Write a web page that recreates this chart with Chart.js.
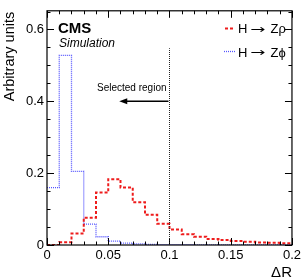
<!DOCTYPE html>
<html>
<head>
<meta charset="utf-8">
<script src="https://cdn.jsdelivr.net/npm/chart.js@4.4.1/dist/chart.umd.min.js"></script>
<style>
html,body{margin:0;padding:0;background:#fff;}
canvas{display:block;}
</style>
</head>
<body>
<canvas id="c" width="304" height="279"></canvas>
<script>
// Bin lower edges (ΔR), bin width 0.01
const binEdges = [0.00,0.01,0.02,0.03,0.04,0.05,0.06,0.07,0.08,0.09,0.10,0.11,0.12,0.13,0.14,0.15,0.16,0.17,0.18,0.19];
const binUpper = 0.20;
// H -> Zrho (red dashed)
const zRho = [0.000,0.008,0.032,0.076,0.146,0.183,0.160,0.119,0.084,0.059,0.043,0.030,0.023,0.017,0.014,0.011,0.009,0.007,0.006,0.005];
// H -> Zphi (blue dotted)
const zPhi = [0.160,0.528,0.205,0.058,0.023,0.011,0.005,0.003,0.002,0.001,0.001,0.001,0.000,0.000,0.000,0.000,0.000,0.000,0.000,0.000];
const seriesNames = ["H \u2192 Z\u03C1","H \u2192 Z\u03D5"];
const xTickVals = [0,0.05,0.1,0.15,0.2];
const xTickLabels = ["0","0.05","0.1","0.15","0.2"];
const yTickVals = [0,0.2,0.4,0.6];
const yTickLabels = ["0","0.2","0.4","0.6"];
const cutValue = 0.1;

function histPoints(vals){
  const pts = binEdges.map((e,i)=>({x:e,y:vals[i]}));
  pts.push({x:binUpper,y:vals[vals.length-1]});
  return pts;
}

const FONT = "'Liberation Sans', Arial, Helvetica, sans-serif";

function legendText(ctx, label, x, y){
  const parts = label.split(' ');   // ["H","→","Zρ"]
  ctx.font = '13px ' + FONT;
  ctx.fillText(parts[0], x, y);
  ctx.save();
  ctx.translate(x + 12, y - 0.5);
  ctx.scale(1.5, 1);
  ctx.font = '12px DejaVu Sans';
  ctx.fillText(parts[1], 0, 0);
  ctx.restore();
  ctx.font = '13px ' + FONT;
  ctx.fillText(parts[2], x + 32.5, y);
}

const decor = {
  id:'decor',
  afterDatasetsDraw(chart){
    const ctx = chart.ctx;
    const a = chart.chartArea;
    const xs = chart.scales.x, ys = chart.scales.y;
    ctx.save();
    // frame
    ctx.strokeStyle = '#000';
    ctx.lineWidth = 1.2;
    ctx.setLineDash([]);
    ctx.strokeRect(a.left, a.top, a.right-a.left, a.bottom-a.top);
    // ticks
    ctx.lineWidth = 1;
    ctx.beginPath();
    for(let k=0;k<=20;k++){
      const v = k*0.01;
      const px = Math.round(xs.getPixelForValue(v))+0.5;
      const len = (k%5===0)?7:3.5;
      ctx.moveTo(px,a.bottom); ctx.lineTo(px,a.bottom-len);
      ctx.moveTo(px,a.top); ctx.lineTo(px,a.top+len);
    }
    for(let k=0;k<=13;k++){
      const v = k*0.05;
      if(v>ys.max) break;
      const py = Math.round(ys.getPixelForValue(v))+0.5;
      const len = (k%4===0)?7:3.5;
      ctx.moveTo(a.left,py); ctx.lineTo(a.left+len,py);
      ctx.moveTo(a.right,py); ctx.lineTo(a.right-len,py);
    }
    ctx.stroke();
    // vertical cut line
    const cx = Math.round(xs.getPixelForValue(cutValue))+0.5;
    ctx.strokeStyle = '#222';
    ctx.lineWidth = 1;
    ctx.setLineDash([1,1]);
    ctx.beginPath();
    ctx.moveTo(cx, ys.getPixelForValue(0));
    ctx.lineTo(cx, ys.getPixelForValue(0.548));
    ctx.stroke();
    ctx.setLineDash([]);
    // arrow
    const ay = ys.getPixelForValue(0.4);
    const ax0 = cx-1, ax1 = xs.getPixelForValue(0.059);
    ctx.strokeStyle = '#000';
    ctx.lineWidth = 1.5;
    ctx.beginPath();
    ctx.moveTo(ax0, ay); ctx.lineTo(ax1+6, ay);
    ctx.stroke();
    ctx.fillStyle = '#000';
    ctx.beginPath();
    ctx.moveTo(ax1, ay); ctx.lineTo(ax1+8, ay-3); ctx.lineTo(ax1+8, ay+3); ctx.closePath();
    ctx.fill();
    // texts
    ctx.fillStyle = '#000';
    ctx.textBaseline = 'alphabetic';
    ctx.textAlign = 'right';
    ctx.font = '10px ' + FONT;
    ctx.fillText('Selected region', cx-3, 91);
    ctx.textAlign = 'left';
    ctx.font = 'bold 15px ' + FONT;
    ctx.fillText('CMS', 58, 32.5);
    ctx.font = 'italic 12px ' + FONT;
    ctx.fillText('Simulation', 59, 46.5);
    // legend
    ctx.lineWidth = 2;
    ctx.strokeStyle = '#ee1c1c';
    ctx.setLineDash([3,2]);
    ctx.beginPath(); ctx.moveTo(225,28.5); ctx.lineTo(234,28.5); ctx.stroke();
    ctx.lineWidth = 1.3;
    ctx.strokeStyle = '#5555ff';
    ctx.setLineDash([1,1]);
    ctx.beginPath(); ctx.moveTo(224,51.5); ctx.lineTo(235,51.5); ctx.stroke();
    ctx.setLineDash([]);
    legendText(ctx, seriesNames[0], 238, 33);
    legendText(ctx, seriesNames[1], 238, 56.5);
    // axis titles
    ctx.font = '15px ' + FONT;
    ctx.textAlign = 'right';
    ctx.fillText('\u0394R', a.right, 277);
    ctx.save();
    ctx.translate(14, a.top+1);
    ctx.rotate(-Math.PI/2);
    ctx.textAlign = 'right';
    ctx.textBaseline = 'alphabetic';
    ctx.font = '14.5px ' + FONT;
    ctx.fillText('Arbitrary units', 0, 0);
    ctx.restore();
    ctx.restore();
  }
};

new Chart(document.getElementById('c'), {
  type:'line',
  data:{
    datasets:[
      {label:seriesNames[0], data:histPoints(zRho), stepped:'before', borderColor:'#ee1c1c', borderWidth:2, borderDash:[3,2], pointRadius:0, fill:false},
      {label:seriesNames[1], data:histPoints(zPhi), stepped:'before', borderColor:'#5555ff', borderWidth:1.3, borderDash:[1,1], pointRadius:0, fill:false}
    ]
  },
  options:{
    responsive:false,
    animation:false,
    devicePixelRatio:1,
    layout:{padding:{top:6,right:11,left:0,bottom:0}},
    plugins:{legend:{display:false}, tooltip:{enabled:false}},
    scales:{
      x:{
        type:'linear', min:0, max:binUpper,
        grid:{display:false, drawTicks:false},
        border:{display:false},
        afterBuildTicks(s){ s.ticks = xTickVals.map(v=>({value:v})); },
        afterFit(s){ s.height = 34; },
        ticks:{padding:3, color:'#000', font:{family:FONT, size:13}, maxRotation:0, autoSkip:false,
          callback:(v,i)=>xTickLabels[i]}
      },
      y:{
        type:'linear', min:0, max:0.652,
        grid:{display:false, drawTicks:false},
        border:{display:false},
        afterBuildTicks(s){ s.ticks = yTickVals.map(v=>({value:v})); },
        afterFit(s){ s.width = 47; },
        ticks:{padding:3, color:'#000', font:{family:FONT, size:13}, autoSkip:false,
          callback:(v,i)=>yTickLabels[i]}
      }
    }
  },
  plugins:[decor]
});
</script>
</body>
</html>
